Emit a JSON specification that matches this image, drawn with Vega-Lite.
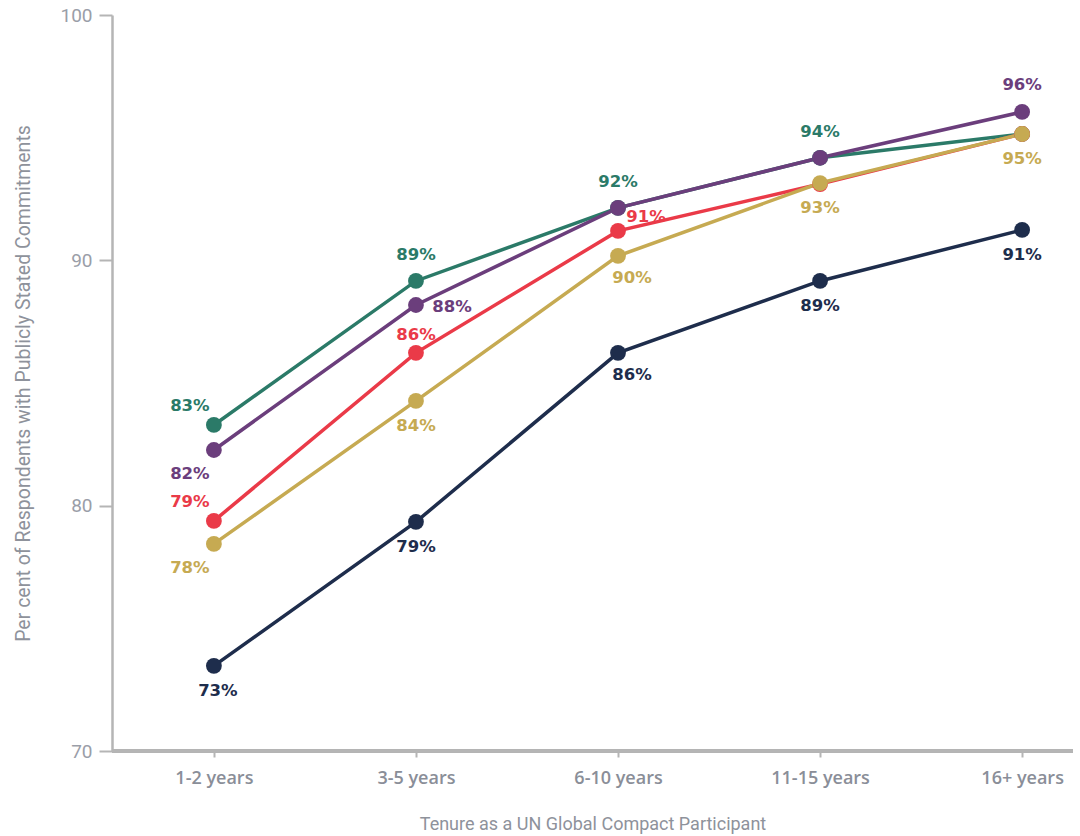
{
  "$schema": "https://vega.github.io/schema/vega-lite/v6.json",
  "autosize": "none",
  "width": 961,
  "height": 736,
  "padding": {"left": 112, "top": 15, "right": 7, "bottom": 85},
  "background": "white",
  "config": {"view": {"stroke": null}},
  "data": {"values": [
    {"series": "Group A", "tenure": "1-2 years", "value": 83.29, "label": "83%"},
    {"series": "Group A", "tenure": "3-5 years", "value": 89.16, "label": "89%"},
    {"series": "Group A", "tenure": "6-10 years", "value": 92.14, "label": "92%"},
    {"series": "Group A", "tenure": "11-15 years", "value": 94.18, "label": "94%"},
    {"series": "Group A", "tenure": "16+ years", "value": 95.15, "label": "95%"},
    {"series": "Group B", "tenure": "1-2 years", "value": 82.27, "label": "82%"},
    {"series": "Group B", "tenure": "3-5 years", "value": 88.18, "label": "88%"},
    {"series": "Group B", "tenure": "6-10 years", "value": 92.14, "label": "92%"},
    {"series": "Group B", "tenure": "11-15 years", "value": 94.18, "label": "94%"},
    {"series": "Group B", "tenure": "16+ years", "value": 96.05, "label": "96%"},
    {"series": "Group C", "tenure": "1-2 years", "value": 79.38, "label": "79%"},
    {"series": "Group C", "tenure": "3-5 years", "value": 86.23, "label": "86%"},
    {"series": "Group C", "tenure": "6-10 years", "value": 91.2, "label": "91%"},
    {"series": "Group C", "tenure": "11-15 years", "value": 93.11, "label": "93%"},
    {"series": "Group C", "tenure": "16+ years", "value": 95.15, "label": "95%"},
    {"series": "Group D", "tenure": "1-2 years", "value": 78.44, "label": "78%"},
    {"series": "Group D", "tenure": "3-5 years", "value": 84.27, "label": "84%"},
    {"series": "Group D", "tenure": "6-10 years", "value": 90.18, "label": "90%"},
    {"series": "Group D", "tenure": "11-15 years", "value": 93.15, "label": "93%"},
    {"series": "Group D", "tenure": "16+ years", "value": 95.15, "label": "95%"},
    {"series": "Group E", "tenure": "1-2 years", "value": 73.47, "label": "73%"},
    {"series": "Group E", "tenure": "3-5 years", "value": 79.34, "label": "79%"},
    {"series": "Group E", "tenure": "6-10 years", "value": 86.23, "label": "86%"},
    {"series": "Group E", "tenure": "11-15 years", "value": 89.16, "label": "89%"},
    {"series": "Group E", "tenure": "16+ years", "value": 91.24, "label": "91%"}
  ]},
  "encoding": {
    "x": {
      "field": "tenure", "type": "ordinal",
      "sort": ["1-2 years", "3-5 years", "6-10 years", "11-15 years", "16+ years"],
      "scale": {"type": "point", "padding": 0.378, "align": 0.667},
      "axis": {
        "title": "Tenure as a UN Global Compact Participant",
        "domain": false, "labelAngle": 0,
        "tickSize": 6, "tickWidth": 2, "tickColor": "#b5b5b5",
        "labelPadding": 12, "labelFont": "Open Sans", "labelFontSize": 18, "labelFontWeight": 600,
        "labelColor": "#8a8e98",
        "titleFont": "Roboto", "titleFontSize": 18, "titleFontWeight": "normal", "titleColor": "#8e929b",
        "titlePadding": 28
      }
    },
    "y": {
      "field": "value", "type": "quantitative",
      "scale": {"domain": [70, 100], "zero": false, "nice": false},
      "axis": {
        "title": "Per cent of Respondents with Publicly Stated Commitments",
        "values": [70, 80, 90, 100], "grid": false,
        "domainColor": "#b5b5b5", "domainWidth": 2.5,
        "tickSize": 13, "tickWidth": 2, "tickColor": "#b5b5b5",
        "labelPadding": 7, "labelFont": "Roboto", "labelFontSize": 19, "labelColor": "#9a9ea8",
        "titleFont": "Roboto", "titleFontSize": 19.5, "titleFontWeight": "normal", "titleColor": "#8e929b",
        "titlePadding": 26
      }
    },
    "color": {
      "field": "series", "type": "nominal", "legend": null,
      "scale": {
        "domain": ["Group A", "Group B", "Group C", "Group D", "Group E"],
        "range": ["#2b7a68", "#6b3e7c", "#ea3a48", "#c6aa52", "#1e2d4c"]
      }
    }
  },
  "layer": [
    {"mark": {"type": "rule", "color": "#b5b5b5", "strokeWidth": 2.5}, "encoding": {"y": {"datum": 70}, "x": null, "color": null}},
    {"mark": {"type": "line", "strokeWidth": 3.5}},
    {"mark": {"type": "point", "filled": true, "size": 250, "opacity": 1}},
    {
      "transform": [{"filter": "datum.series == 'Group A' && datum.tenure != '1-2 years' && datum.tenure != '16+ years'"}],
      "mark": {"type": "text", "font": "DejaVu Sans", "fontWeight": "bold", "fontSize": 16.5, "baseline": "middle", "dy": -26},
      "encoding": {"text": {"field": "label"}}
    },
    {
      "transform": [{"filter": "datum.series == 'Group B' && datum.tenure == '16+ years'"}],
      "mark": {"type": "text", "font": "DejaVu Sans", "fontWeight": "bold", "fontSize": 16.5, "baseline": "middle", "dy": -27},
      "encoding": {"text": {"field": "label"}}
    },
    {
      "transform": [{"filter": "datum.series == 'Group C' && datum.tenure == '3-5 years'"}],
      "mark": {"type": "text", "font": "DejaVu Sans", "fontWeight": "bold", "fontSize": 16.5, "baseline": "middle", "dy": -18},
      "encoding": {"text": {"field": "label"}}
    },
    {
      "transform": [{"filter": "(datum.series == 'Group A' || datum.series == 'Group C') && datum.tenure == '1-2 years'"}],
      "mark": {"type": "text", "font": "DejaVu Sans", "fontWeight": "bold", "fontSize": 16.5, "baseline": "middle", "dx": -24, "dy": -19},
      "encoding": {"text": {"field": "label"}}
    },
    {
      "transform": [{"filter": "(datum.series == 'Group B' || datum.series == 'Group D') && datum.tenure == '1-2 years'"}],
      "mark": {"type": "text", "font": "DejaVu Sans", "fontWeight": "bold", "fontSize": 16.5, "baseline": "middle", "dx": -24, "dy": 24},
      "encoding": {"text": {"field": "label"}}
    },
    {
      "transform": [{"filter": "datum.series == 'Group B' && datum.tenure == '3-5 years'"}],
      "mark": {"type": "text", "font": "DejaVu Sans", "fontWeight": "bold", "fontSize": 16.5, "baseline": "middle", "dx": 36, "dy": 2},
      "encoding": {"text": {"field": "label"}}
    },
    {
      "transform": [{"filter": "datum.series == 'Group C' && datum.tenure == '6-10 years'"}],
      "mark": {"type": "text", "font": "DejaVu Sans", "fontWeight": "bold", "fontSize": 16.5, "baseline": "middle", "dx": 28, "dy": -14},
      "encoding": {"text": {"field": "label"}}
    },
    {
      "transform": [{"filter": "(datum.series == 'Group D' || datum.series == 'Group E') && datum.tenure != '1-2 years' && datum.tenure != '6-10 years'"}],
      "mark": {"type": "text", "font": "DejaVu Sans", "fontWeight": "bold", "fontSize": 16.5, "baseline": "middle", "dy": 25},
      "encoding": {"text": {"field": "label"}}
    },
    {
      "transform": [{"filter": "datum.series == 'Group E' && datum.tenure == '1-2 years'"}],
      "mark": {"type": "text", "font": "DejaVu Sans", "fontWeight": "bold", "fontSize": 16.5, "baseline": "middle", "dx": 4, "dy": 25},
      "encoding": {"text": {"field": "label"}}
    },
    {
      "transform": [{"filter": "(datum.series == 'Group D' || datum.series == 'Group E') && datum.tenure == '6-10 years'"}],
      "mark": {"type": "text", "font": "DejaVu Sans", "fontWeight": "bold", "fontSize": 16.5, "baseline": "middle", "dx": 14, "dy": 22},
      "encoding": {"text": {"field": "label"}}
    }
  ]
}
